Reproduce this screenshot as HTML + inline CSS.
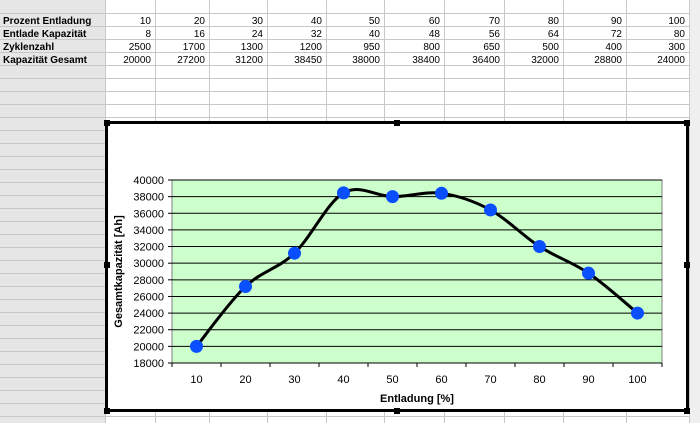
<!DOCTYPE html>
<html><head><meta charset="utf-8"><style>
body{margin:0;width:700px;height:423px;overflow:hidden;background:#fff;font-family:"Liberation Sans",sans-serif;}
svg{display:block}
</style></head><body>
<svg id="s" width="700" height="423" xmlns="http://www.w3.org/2000/svg">
<rect x="0" y="0" width="105" height="423" fill="#e6e6e6"/>
<rect x="689" y="0" width="11" height="423" fill="#efefef"/>
<g id="grid"></g>
<g id="table"></g>
<g id="chart"></g>
</svg>
<script>
const NS='http://www.w3.org/2000/svg';
const categories=[10,20,30,40,50,60,70,80,90,100];
const entladeKap=[8,16,24,32,40,48,56,64,72,80];
const zyklen=[2500,1700,1300,1200,950,800,650,500,400,300];
const gesamt=[20000,27200,31200,38450,38000,38400,36400,32000,28800,24000];
const yTicks=[18000,20000,22000,24000,26000,28000,30000,32000,34000,36000,38000,40000];
const rowLabels=['Prozent Entladung','Entlade Kapazität','Zyklenzahl','Kapazität Gesamt'];
const colEdges=[105,155,209,267,326,384,444,504,563,626,689];
function el(t,a,p){const e=document.createElementNS(NS,t);for(const k in a)e.setAttribute(k,a[k]);p.appendChild(e);return e;}
const grid=document.getElementById('grid');
for(let y=13;y<423;y+=13){const l=el('line',{x1:0,x2:689,y1:y+0.5,y2:y+0.5,stroke:'#c8c8c8','stroke-width':1},grid);

}
colEdges.forEach(x=>{const l=el('line',{x1:x+0.5,x2:x+0.5,y1:0,y2:423,stroke:'#c8c8c8','stroke-width':1},grid);

});
const table=document.getElementById('table');
const rows=[categories,entladeKap,zyklen,gesamt];
rows.forEach((r,i)=>{const y=24+13*i;
const t=el('text',{x:3,y:y,'font-size':10,'font-weight':'bold',fill:'#000'},table);t.textContent=rowLabels[i];


r.forEach((v,j)=>{const c=el('text',{x:colEdges[j+1]-4,y:y,'font-size':10,'text-anchor':'end',fill:'#000'},table);c.textContent=v;

});});
const ch=document.getElementById('chart');
const fr=el('rect',{x:106.5,y:122.5,width:581,height:288,fill:'#fff',stroke:'#000','stroke-width':3},ch);


[[104,120],[394,120],[684,120],[104,262],[684,262],[104,408],[394,408],[684,408]].forEach(p=>{const h=el('rect',{x:p[0],y:p[1],width:6,height:6,fill:'#000'},ch);

});
const PL=172,PR=662,PT=180,PB=363,ymin=18000,ymax=40000;
const ys=v=>PB-(v-ymin)/(ymax-ymin)*(PB-PT);
const step=(PR-PL)/categories.length;
const xs=i=>PL+step*(i+0.5);
const pa=el('rect',{x:PL,y:PT,width:PR-PL,height:PB-PT,fill:'#ccffcc',stroke:'#808080','stroke-width':1},ch);


yTicks.forEach(v=>{const y=ys(v);
if(v>ymin){const g=el('line',{x1:PL,x2:PR,y1:y,y2:y,stroke:'#000','stroke-width':1},ch);

}
const tk=el('line',{x1:PL-4,x2:PL,y1:y,y2:y,stroke:'#000'},ch);


const t=el('text',{x:PL-8,y:y+4,'font-size':11,'text-anchor':'end',fill:'#000'},ch);t.textContent=v;

});
const ax=el('line',{x1:PL,x2:PR,y1:PB,y2:PB,stroke:'#000'},ch);


for(let i=0;i<=categories.length;i++){const tk=el('line',{x1:PL+step*i,x2:PL+step*i,y1:PB,y2:PB+4,stroke:'#000'},ch);

}
categories.forEach((c,i)=>{const t=el('text',{x:xs(i),y:PB+20,'font-size':11,'text-anchor':'middle',fill:'#000'},ch);t.textContent=c;

});
const xt=el('text',{x:(PL+PR)/2,y:402,'font-size':11,'font-weight':'bold','text-anchor':'middle',fill:'#000'},ch);xt.textContent='Entladung [%]';


const yt=el('text',{x:0,y:0,'font-size':11,'font-weight':'bold','text-anchor':'middle',fill:'#000',transform:'translate(122,'+((PT+PB)/2)+') rotate(-90)'},ch);yt.textContent='Gesamtkapazität [Ah]';


const pts=gesamt.map((v,i)=>[xs(i),ys(v)]);
let d='M'+pts[0][0]+','+pts[0][1];
for(let i=0;i<pts.length-1;i++){const p0=pts[Math.max(0,i-1)],p1=pts[i],p2=pts[i+1],p3=pts[Math.min(pts.length-1,i+2)];const k=1/6;
d+=' C'+(p1[0]+(p2[0]-p0[0])*k)+','+(p1[1]+(p2[1]-p0[1])*k)+' '+(p2[0]-(p3[0]-p1[0])*k)+','+(p2[1]-(p3[1]-p1[1])*k)+' '+p2[0]+','+p2[1];}
const ln=el('path',{d:d,fill:'none',stroke:'#000','stroke-width':3},ch);


pts.forEach(p=>{const c=el('circle',{cx:p[0],cy:p[1],r:6.5,fill:'#0a4fff'},ch);

});
</script>
</body></html>
